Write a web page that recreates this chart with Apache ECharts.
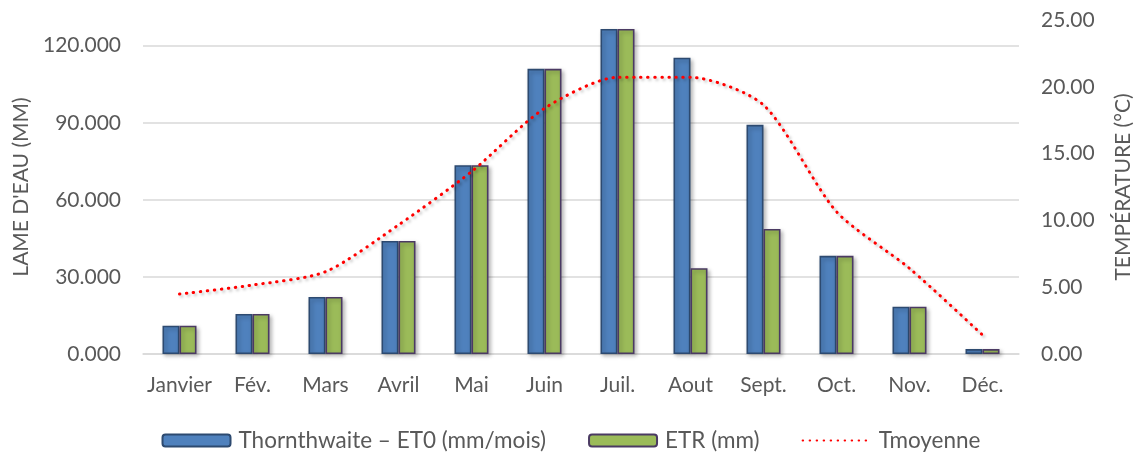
<!DOCTYPE html>
<html>
<head>
<meta charset="utf-8">
<script src="https://cdn.jsdelivr.net/npm/echarts@6/dist/echarts.min.js"></script>
<style>
  html, body { margin: 0; padding: 0; background: #fff; }
  #chart { width: 1142px; height: 454px; }
</style>
</head>
<body>
<div id="chart"></div>
<script>
// Monthly water depth (mm) and mean temperature (°C)
const months = ['Janvier', 'Fév.', 'Mars', 'Avril', 'Mai', 'Juin', 'Juil.', 'Aout', 'Sept.', 'Oct.', 'Nov.', 'Déc.'];
const et0 = [11.0, 15.6, 22.2, 44.0, 73.5, 111.0, 126.5, 115.3, 89.2, 38.2, 18.4, 1.9];
const etr = [11.0, 15.6, 22.2, 44.0, 73.5, 111.0, 126.5, 33.4, 48.7, 38.2, 18.4, 1.9];
const tmoy = [4.49, 5.16, 6.16, 9.66, 13.65, 18.39, 20.71, 20.71, 18.64, 10.65, 6.41, 1.42];

const seriesNames = ['Thornthwaite – ET0 (mm/mois)', 'ETR (mm)', 'Tmoyenne'];
const leftAxisName = "LAME D'EAU (MM)";
const rightAxisName = 'TEMPÉRATURE (°C)';

const FONT = 'Lato';
const TEXT = '#595959';
const GRID = '#d9d9d9';

const barShadow = {
  shadowColor: 'rgba(0,0,0,0.28)',
  shadowBlur: 4,
  shadowOffsetX: 2,
  shadowOffsetY: 2
};

const chart = echarts.init(document.getElementById('chart'), null, { renderer: 'canvas' });

chart.setOption({
  animation: false,
  textStyle: { fontFamily: FONT, color: TEXT },
  grid: { left: 143, right: 115, top: 20, bottom: 100, containLabel: false },
  legend: {
    top: 424,
    left: 'center',
    itemGap: 42,
    itemWidth: 68,
    itemHeight: 12,
    textStyle: { fontFamily: FONT, fontSize: 22.5, color: TEXT, padding: [0, 0, 0, 3] },
    data: [
      { name: seriesNames[0] },
      { name: seriesNames[1] },
      { name: seriesNames[2], itemStyle: { opacity: 0 } }
    ]
  },
  xAxis: {
    type: 'category',
    data: months,
    axisLine: { lineStyle: { color: GRID, width: 1.5 } },
    axisTick: { show: false },
    axisLabel: { fontFamily: FONT, fontSize: 21, color: TEXT, margin: 21, interval: 0 }
  },
  yAxis: [
    {
      type: 'value',
      min: 0,
      max: 130,
      interval: 30,
      name: leftAxisName,
      nameLocation: 'middle',
      nameGap: 108,
      nameTextStyle: { fontFamily: FONT, fontSize: 21, color: TEXT },
      axisLine: { show: false },
      axisTick: { show: false },
      axisLabel: {
        fontFamily: FONT, fontSize: 21, color: TEXT, margin: 22,
        showMaxLabel: false,
        formatter: v => v.toFixed(3)
      },
      splitLine: { show: true, showMaxLine: false, lineStyle: { color: GRID, width: 1.5 } }
    },
    {
      type: 'value',
      min: 0,
      max: 25,
      interval: 5,
      position: 'right',
      name: rightAxisName,
      nameLocation: 'middle',
      nameRotate: 90,
      nameGap: 94,
      nameTextStyle: { fontFamily: FONT, fontSize: 21, color: TEXT },
      axisLine: { show: false },
      axisTick: { show: false },
      axisLabel: {
        fontFamily: FONT, fontSize: 21, color: TEXT, margin: 22,
        formatter: v => v.toFixed(2)
      },
      splitLine: { show: false }
    }
  ],
  series: [
    {
      name: seriesNames[0],
      type: 'bar',
      yAxisIndex: 0,
      data: et0,
      barWidth: 17,
      barGap: '0%',
      itemStyle: Object.assign({ color: '#4f81bd', borderColor: '#2d4a70', borderWidth: 1.6 }, barShadow)
    },
    {
      name: seriesNames[1],
      type: 'bar',
      yAxisIndex: 0,
      data: etr,
      barWidth: 17,
      barGap: '0%',
      itemStyle: Object.assign({ color: '#9bbb59', borderColor: '#4b3a63', borderWidth: 1.6 }, barShadow)
    },
    {
      name: seriesNames[2],
      type: 'line',
      yAxisIndex: 1,
      data: tmoy,
      smooth: 0.25,
      symbol: 'none',
      z: 5,
      itemStyle: { color: '#ff0000' },
      lineStyle: {
        color: '#ff0000',
        width: 3,
        type: [0.5, 6.5],
        cap: 'round',
        shadowColor: 'rgba(0,0,0,0.25)',
        shadowBlur: 3,
        shadowOffsetX: 2,
        shadowOffsetY: 2
      }
    }
  ]
});
</script>
</body>
</html>
